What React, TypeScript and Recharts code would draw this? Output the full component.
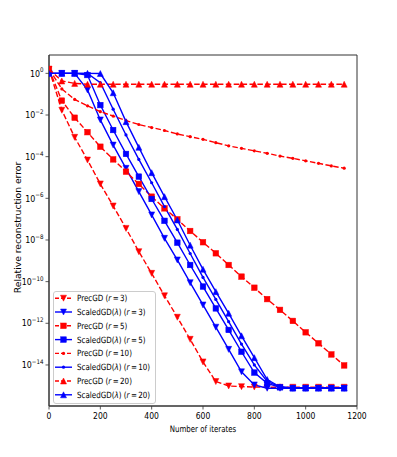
import React from 'react';
import { LineChart, Line, XAxis, YAxis, ReferenceArea, Legend, Label } from 'recharts';

const ITER = [0, 50, 100, 150, 200, 250, 300, 350, 400, 450, 500, 550, 600, 650, 700, 750, 800, 850, 900, 950, 1000, 1050, 1100, 1150];

const PREC_R3 = [1.6, 1.7e-2, 8.5e-4, 6.9e-5, 4.9e-6, 4.3e-7, 3.6e-8, 2.75e-9, 2.5e-10, 2.1e-11, 1.95e-12, 1.7e-13, 1.4e-14, 1.6e-15, 9.8e-16, 9.1e-16, 8.7e-16, 8.5e-16, 8.5e-16, 8.5e-16, 8.5e-16, 8.5e-16, 8.5e-16, 8.5e-16];
const SCALED_R3 = [1, 1, 1, 0.16, 5.8e-3, 3.6e-4, 2.75e-5, 2.1e-6, 1.6e-7, 1.2e-8, 1.1e-9, 8.9e-11, 7.6e-12, 6.5e-13, 5.6e-14, 4.7e-15, 1.1e-15, 7.6e-16, 7.6e-16, 7.6e-16, 7.6e-16, 7.6e-16, 7.6e-16, 7.6e-16];
const PREC_R5 = [1.6, 4.9e-2, 7.4e-3, 1.5e-3, 3.0e-4, 7.4e-5, 1.9e-5, 4.9e-6, 1.2e-6, 3.3e-7, 9.8e-8, 2.7e-8, 7.8e-9, 2.3e-9, 6.3e-10, 1.74e-10, 5.1e-11, 1.45e-11, 4.4e-12, 1.3e-12, 3.7e-13, 1.1e-13, 3.2e-14, 9.5e-15];
const SCALED_R5 = [1, 1, 1, 0.83, 3.0e-2, 1.9e-3, 1.35e-4, 1.1e-5, 9.3e-7, 8.3e-8, 7.4e-9, 6.3e-10, 5.8e-11, 5.2e-12, 4.8e-13, 4.3e-14, 4.3e-15, 1.3e-15, 8.5e-16, 7.6e-16, 7.6e-16, 7.6e-16, 7.6e-16, 7.6e-16];
const PREC_R10 = [1.6, 0.178, 5.6e-2, 2.75e-2, 1.45e-2, 8.9e-3, 5.4e-3, 3.5e-3, 2.5e-3, 1.8e-3, 1.23e-3, 9.1e-4, 6.8e-4, 4.7e-4, 3.3e-4, 2.5e-4, 1.9e-4, 1.45e-4, 1.07e-4, 8.3e-5, 6.3e-5, 4.8e-5, 3.6e-5, 2.8e-5];
const SCALED_R10 = [1, 1, 1, 1, 0.355, 1.9e-2, 1.1e-3, 7.4e-5, 5.6e-6, 4.0e-7, 3.2e-8, 2.24e-9, 1.6e-10, 1.4e-11, 1.2e-12, 1.0e-13, 1.0e-14, 1.6e-15, 8.9e-16, 7.9e-16, 7.9e-16, 7.9e-16, 7.9e-16, 7.9e-16];
const PREC_R20 = [1.6, 0.43, 0.33, 0.3, 0.3, 0.3, 0.3, 0.3, 0.3, 0.3, 0.3, 0.3, 0.3, 0.3, 0.3, 0.3, 0.3, 0.3, 0.3, 0.3, 0.3, 0.3, 0.3, 0.3];
const SCALED_R20 = [1, 1, 1, 1, 0.98, 0.117, 4.8e-3, 2.8e-4, 1.7e-5, 1.2e-6, 9.1e-8, 5.6e-9, 3.9e-10, 3.3e-11, 3.0e-12, 2.5e-13, 2.24e-14, 2.0e-15, 8.9e-16, 7.9e-16, 7.9e-16, 7.9e-16, 7.9e-16, 7.9e-16];

const X_TICKS = [0, 200, 400, 600, 800, 1000, 1200];
const Y_TICKS = [1, 1e-2, 1e-4, 1e-6, 1e-8, 1e-10, 1e-12, 1e-14];
const X_DOMAIN: [number, number] = [0, 1200];
const Y_DOMAIN: [number, number] = [1.07e-16, 7.6];

const RED = '#ff0000';
const BLUE = '#0000ff';
const FONT = 'DejaVu Sans, sans-serif';

type Shape = 'tdown' | 'square' | 'point' | 'tup';

const SERIES: { key: string; label: string; r: string; prec: boolean; shape: Shape; values: number[] }[] = [
  { key: 'p3', label: 'PrecGD', r: '3', prec: true, shape: 'tdown', values: PREC_R3 },
  { key: 's3', label: 'ScaledGD', r: '3', prec: false, shape: 'tdown', values: SCALED_R3 },
  { key: 'p5', label: 'PrecGD', r: '5', prec: true, shape: 'square', values: PREC_R5 },
  { key: 's5', label: 'ScaledGD', r: '5', prec: false, shape: 'square', values: SCALED_R5 },
  { key: 'p10', label: 'PrecGD', r: '10', prec: true, shape: 'point', values: PREC_R10 },
  { key: 's10', label: 'ScaledGD', r: '10', prec: false, shape: 'point', values: SCALED_R10 },
  { key: 'p20', label: 'PrecGD', r: '20', prec: true, shape: 'tup', values: PREC_R20 },
  { key: 's20', label: 'ScaledGD', r: '20', prec: false, shape: 'tup', values: SCALED_R20 },
];

const data = ITER.map((it, i) => {
  const row: Record<string, number> = { iter: it };
  SERIES.forEach((s) => { row[s.key] = s.values[i]; });
  return row;
});

function marker(shape: Shape, color: string, cx: number, cy: number, key?: string) {
  switch (shape) {
    case 'square':
      return <rect key={key} x={cx - 2.8} y={cy - 2.8} width={5.6} height={5.6} fill={color} stroke={color} strokeWidth={0.5} />;
    case 'tdown':
      return <polygon key={key} points={`${cx - 3},${cy - 3} ${cx + 3},${cy - 3} ${cx},${cy + 3}`} fill={color} stroke={color} strokeWidth={0.5} />;
    case 'tup':
      return <polygon key={key} points={`${cx},${cy - 3} ${cx - 3},${cy + 3} ${cx + 3},${cy + 3}`} fill={color} stroke={color} strokeWidth={0.5} />;
    default:
      return <circle key={key} cx={cx} cy={cy} r={1.6} fill={color} />;
  }
}

const dotRenderer = (shape: Shape, color: string) => (props: any) => {
  const { cx, cy, index } = props;
  if (cx == null || cy == null) return <g key={`e-${index}`} />;
  return <g key={`m-${index}`}>{marker(shape, color, cx, cy)}</g>;
};

const LogTick = (props: any) => {
  const { x, y, payload } = props;
  const exp = Math.round(Math.log10(payload.value));
  const expText = exp === 0 ? '0' : `\u2212${Math.abs(exp)}`;
  return (
    <text transform={`translate(${x} ${y}) scale(0.88 1)`} x={0} y={0} dy={3.2} textAnchor="end" fontSize={9} fontFamily={FONT} fill="#000">
      10<tspan dy={-4.3} fontSize={6.3}>{expText}</tspan>
    </text>
  );
};

const XTick = (props: any) => {
  const { x, y, payload } = props;
  return (
    <text transform={`translate(${x} ${y}) scale(0.87 1)`} x={0} y={0} dy={7.5} textAnchor="middle" fontSize={8.8} fontFamily={FONT} fill="#000">
      {payload.value}
    </text>
  );
};

const LegendBox = () => {
  const rowH = 13.8;
  return (
    <svg width={103} height={113} style={{ display: 'block' }}>
      <rect x={0.5} y={0.5} width={102} height={112} rx={2.5} fill="rgba(255,255,255,0.85)" stroke="#cccccc" strokeWidth={1} />
      {SERIES.map((s, i) => {
        const cy = 7.2 + i * rowH;
        const color = s.prec ? RED : BLUE;
        return (
          <g key={s.key}>
            <line x1={2} y1={cy} x2={19} y2={cy} stroke={color} strokeWidth={1.4} strokeDasharray={s.prec ? '4 2' : undefined} />
            {marker(s.shape, color, 10.5, cy)}
            <text transform={`translate(24 ${cy}) scale(0.83 1)`} x={0} y={0} dy={3} fontSize={8.6} fontFamily={FONT} fill="#000">
              {s.prec ? 'PrecGD' : 'ScaledGD('}
              {s.prec ? null : <tspan fontStyle="italic">λ</tspan>}
              {s.prec ? ' (' : ') ('}
              <tspan fontStyle="italic">r</tspan>
              {`\u2009=\u2009${s.r})`}
            </text>
          </g>
        );
      })}
    </svg>
  );
};

export default function App() {
  return (
    <div style={{ width: 381, height: 440 }}>
      <LineChart width={381} height={440} data={data} margin={{ top: 47, right: 32, left: 0, bottom: 12 }}>
        <XAxis
          dataKey="iter"
          type="number"
          domain={X_DOMAIN}
          ticks={X_TICKS}
          allowDataOverflow
          height={30}
          tickSize={3.5}
          tick={<XTick />}
          axisLine={{ stroke: '#333', strokeWidth: 1 }}
          tickLine={{ stroke: '#333', strokeWidth: 0.8 }}
        >
          <Label
            content={(p: any) => {
              const vb = p.viewBox || {};
              const cx = vb.x + vb.width / 2;
              const cy = vb.y + 26;
              return (
                <text transform={`translate(${cx} ${cy}) scale(0.8 1)`} x={0} y={0} textAnchor="middle" fontSize={8.8} fontFamily={FONT} fill="#000">
                  Number of iterates
                </text>
              );
            }}
          />
        </XAxis>
        <YAxis
          type="number"
          scale="log"
          domain={Y_DOMAIN}
          ticks={Y_TICKS}
          allowDataOverflow
          width={41}
          tickSize={3.5}
          tick={<LogTick />}
          axisLine={{ stroke: '#333', strokeWidth: 1 }}
          tickLine={{ stroke: '#333', strokeWidth: 0.8 }}
        >
          <Label
            content={() => {
              const cx = 10;
              const cy = 219.5;
              return (
                <text transform={`translate(${cx} ${cy}) rotate(-90) scale(1 0.85)`} x={0} y={0} textAnchor="middle" dominantBaseline="central" fontSize={9.2} fontFamily={FONT} fill="#000">
                  Relative reconstruction error
                </text>
              );
            }}
          />
        </YAxis>
        <ReferenceArea x1={0} x2={1200} y1={Y_DOMAIN[0]} y2={Y_DOMAIN[1]} fill="none" stroke="#333" strokeWidth={1} />
        {SERIES.map((s) => {
          const color = s.prec ? RED : BLUE;
          return (
            <Line
              key={s.key}
              type="linear"
              dataKey={s.key}
              stroke={color}
              strokeWidth={1.4}
              strokeDasharray={s.prec ? '5.5 2.4' : undefined}
              dot={dotRenderer(s.shape, color)}
              activeDot={false}
              isAnimationActive={false}
            />
          );
        })}
        <Legend
          layout="vertical"
          align="center"
          verticalAlign="middle"
          content={() => <LegendBox />}
          wrapperStyle={{ position: 'absolute', left: 45, top: 283, width: 103, height: 113 }}
        />
      </LineChart>
    </div>
  );
}
